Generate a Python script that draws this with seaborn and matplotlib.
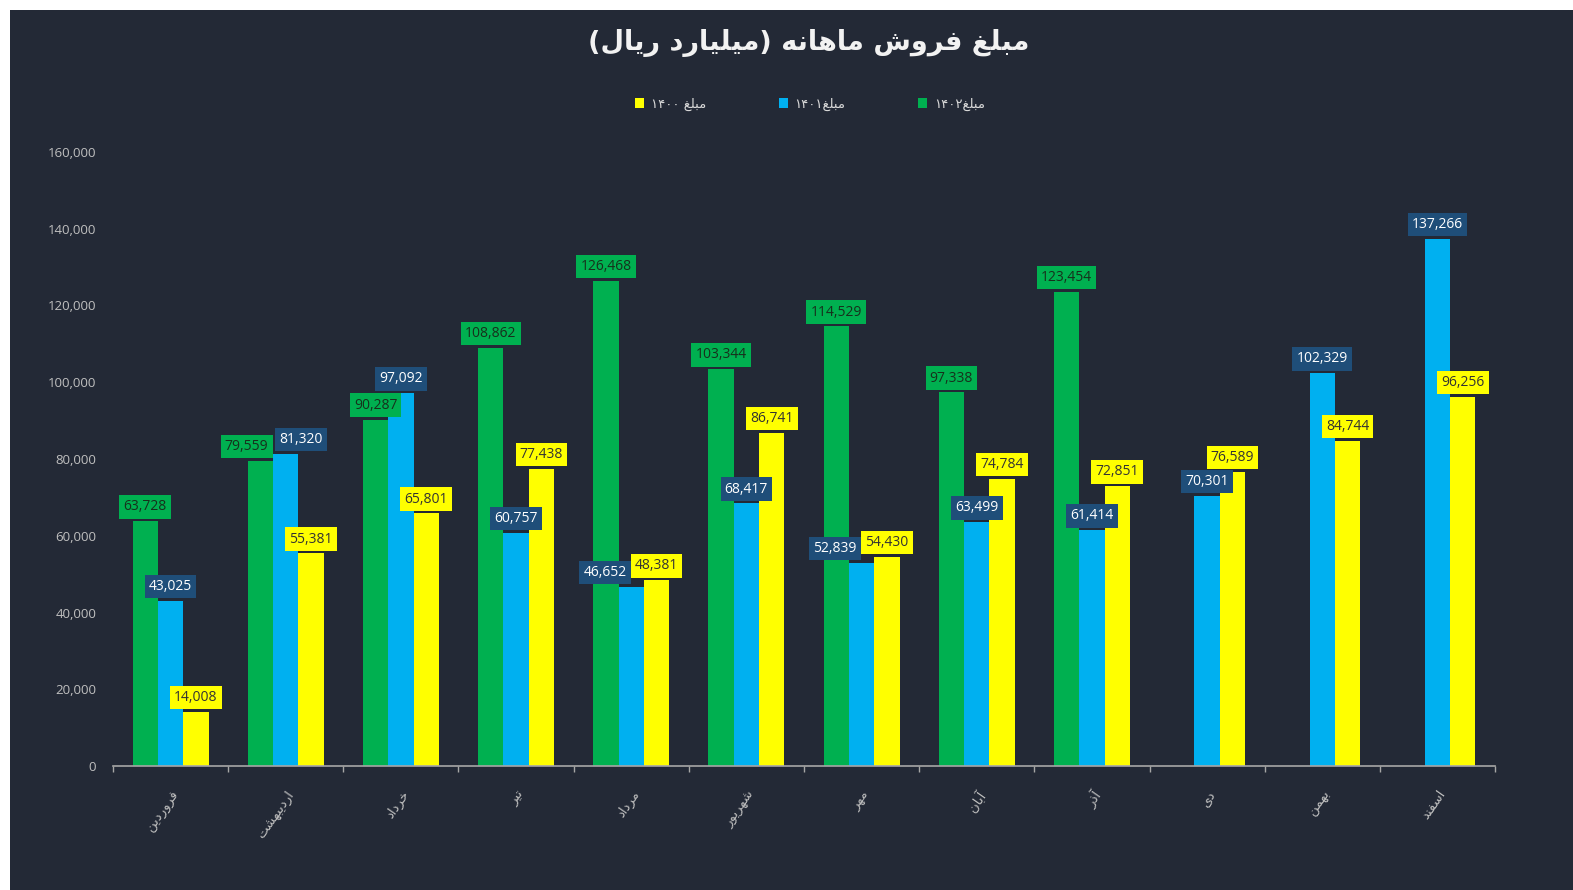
import re

import matplotlib.pyplot as plt
import pandas as pd
import seaborn as sns
from matplotlib.patches import Rectangle, Patch

months = ["فروردین", "اردیبهشت", "خرداد", "تیر", "مرداد", "شهریور",
          "مهر", "آبان", "آذر", "دی", "بهمن", "اسفند"]
series_names = ["مبلغ۱۴۰۲", "مبلغ۱۴۰۱", "مبلغ ۱۴۰۰"]
sales_1402 = [63728, 79559, 90287, 108862, 126468, 103344,
              114529, 97338, 123454, None, None, None]
sales_1401 = [43025, 81320, 97092, 60757, 46652, 68417,
              52839, 63499, 61414, 70301, 102329, 137266]
sales_1400 = [14008, 55381, 65801, 77438, 48381, 86741,
              54430, 74784, 72851, 76589, 84744, 96256]
title = "مبلغ فروش ماهانه (میلیارد ریال)"

colors = ["#00B050", "#00B0F0", "#FFFF00"]
label_bg = ["#00B050", "#1F4E79", "#FFFF00"]
label_fg = ["#17301c", "#FFFFFF", "#333333"]
BG = "#232936"
GREY = "#BFBFBF"

# --- tiny Persian shaper (matplotlib has no complex text layout) ---
FORMS = {
    "ا": ("\uFE8D", "\uFE8E"), "آ": ("\uFE81", "\uFE82"),
    "د": ("\uFEA9", "\uFEAA"), "ذ": ("\uFEAB", "\uFEAC"),
    "ر": ("\uFEAD", "\uFEAE"), "و": ("\uFEED", "\uFEEE"),
    "ب": ("\uFE8F", "\uFE90", "\uFE91", "\uFE92"),
    "ت": ("\uFE95", "\uFE96", "\uFE97", "\uFE98"),
    "خ": ("\uFEA5", "\uFEA6", "\uFEA7", "\uFEA8"),
    "س": ("\uFEB1", "\uFEB2", "\uFEB3", "\uFEB4"),
    "ش": ("\uFEB5", "\uFEB6", "\uFEB7", "\uFEB8"),
    "غ": ("\uFECD", "\uFECE", "\uFECF", "\uFED0"),
    "ف": ("\uFED1", "\uFED2", "\uFED3", "\uFED4"),
    "ل": ("\uFEDD", "\uFEDE", "\uFEDF", "\uFEE0"),
    "م": ("\uFEE1", "\uFEE2", "\uFEE3", "\uFEE4"),
    "ن": ("\uFEE5", "\uFEE6", "\uFEE7", "\uFEE8"),
    "ه": ("\uFEE9", "\uFEEA", "\uFEEB", "\uFEEC"),
    "ی": ("\uFBFC", "\uFBFD", "\uFBFE", "\uFBFF"),
}
MIRROR = str.maketrans("()", ")(")


def shape(text):
    out = []
    for i, c in enumerate(text):
        forms = FORMS.get(c)
        if forms is None:
            out.append(c)
            continue
        prev = text[i - 1] if i > 0 else None
        nxt = text[i + 1] if i < len(text) - 1 else None
        jp = prev in FORMS and len(FORMS[prev]) == 4
        jn = len(forms) == 4 and nxt in FORMS
        if jp and jn:
            out.append(forms[3])
        elif jp:
            out.append(forms[1])
        elif jn:
            out.append(forms[2])
        else:
            out.append(forms[0])
    return "".join(out)


def rtl(text):
    s = shape(text)
    runs = re.findall(r"\d+|\D+", s)
    vis = []
    for r in reversed(runs):
        vis.append(r if r[0].isdigit() else r[::-1].translate(MIRROR))
    return "".join(vis)


df = pd.DataFrame({
    "month": months * 3,
    "series": [series_names[0]] * 12 + [series_names[1]] * 12 + [series_names[2]] * 12,
    "value": sales_1402 + sales_1401 + sales_1400,
}).dropna()

sns.set_style("dark")
plt.rcParams["font.family"] = ["DejaVu Sans"]

fig = plt.figure(figsize=(15.73, 8.9), dpi=100, facecolor="white")
fig.patches.append(Rectangle((10 / 1573, 0), 1, 880 / 890, transform=fig.transFigure,
                             facecolor=BG, edgecolor="none", zorder=-10))
ax = fig.add_axes([113 / 1573, 124 / 890, 1382 / 1573, 614 / 890])
ax.set_facecolor(BG)

sns.barplot(data=df, x="month", y="value", hue="series", order=months,
            hue_order=series_names, palette=colors, width=0.66, saturation=1,
            edgecolor="none", linewidth=0, legend=False, ax=ax)

ax.set_ylim(0, 160000)
ax.set_xlim(-0.5, len(months) - 0.5)
ax.set_yticks(range(0, 160001, 20000))
ax.set_yticklabels([f"{v:,}" for v in range(0, 160001, 20000)],
                   family="Open Sans", fontsize=9.5, color=GREY)
ax.tick_params(axis="y", length=0, pad=12)
ax.set_xticks(range(len(months)))
ax.set_xticklabels([rtl(m) for m in months], rotation=55, ha="right", va="top",
                   rotation_mode="anchor", fontsize=9.5, color=GREY)
ax.set_xticks([i - 0.5 for i in range(len(months) + 1)], minor=True)
ax.tick_params(axis="x", which="major", length=0, pad=16)
ax.tick_params(axis="x", which="minor", length=4, color="#A6A6A6", width=1, bottom=True)
ax.set_xlabel("")
ax.set_ylabel("")
ax.grid(False)
for side in ["top", "right", "left"]:
    ax.spines[side].set_visible(False)
ax.spines["bottom"].set_color("#A6A6A6")
ax.spines["bottom"].set_linewidth(1.2)

# data labels, nudged sideways when two neighbouring labels would collide
for k, cont in enumerate(ax.containers):
    for bar in cont:
        h = bar.get_height()
        if not h == h or h <= 0:
            continue
        xc = bar.get_x() + bar.get_width() / 2
        idx = int(round(xc))
        dx = 0
        if k == 0 and sales_1401[idx] and abs(h - sales_1401[idx]) < 4000:
            dx = -10
        if k == 1:
            g = sales_1402[idx]
            if g is not None and abs(h - g) < 4000:
                dx = 11
            elif abs(h - sales_1400[idx]) < 4000:
                dx = -19
        ax.annotate(f"{h:,.0f}", (xc, h), xytext=(dx, 5), textcoords="offset points",
                    ha="center", va="bottom", fontsize=10, family="Open Sans",
                    color=label_fg[k],
                    bbox=dict(boxstyle="square,pad=0.3", fc=label_bg[k], ec="none"))

fig.text(0.514, 0.952, rtl(title), ha="center", va="center", fontsize=19.5,
         fontweight="bold", color="#F2F2F2")

handles = [Patch(facecolor=colors[i], edgecolor="none") for i in (2, 1, 0)]
labels = [rtl(series_names[i]) for i in (2, 1, 0)]
fig.legend(handles, labels, loc="center", bbox_to_anchor=(0.515, 0.883), ncol=3,
           frameon=False, fontsize=9.5, labelcolor="#D9D9D9", handlelength=0.7,
           handleheight=0.7, handletextpad=0.5, columnspacing=5.5)

fig.savefig("out.png", dpi=100, facecolor=fig.get_facecolor())
